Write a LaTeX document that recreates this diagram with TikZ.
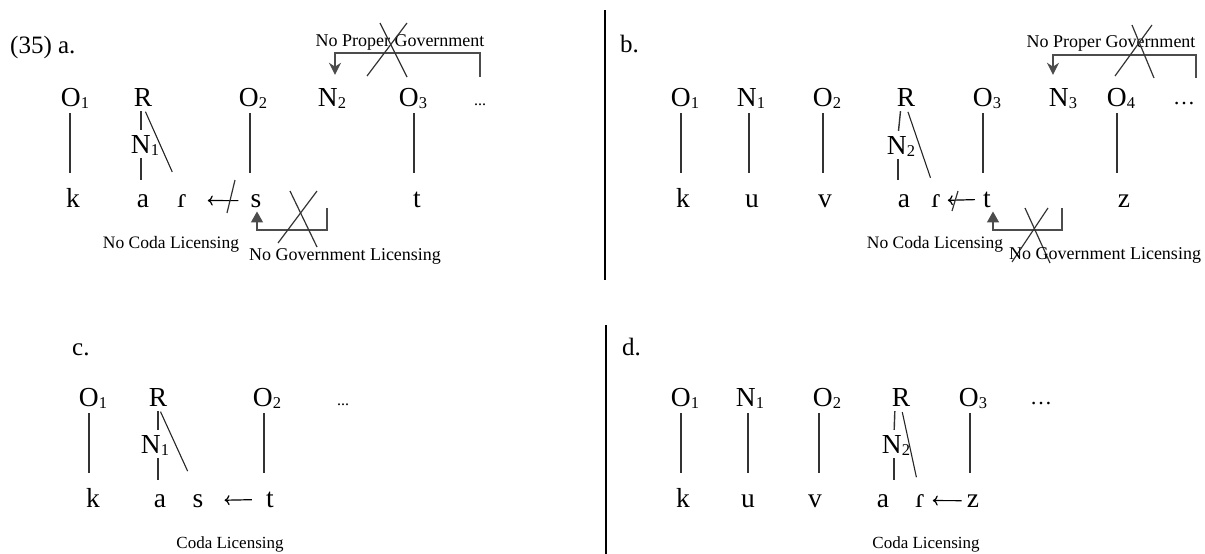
\documentclass[tikz,border=0pt]{standalone}
\usepackage{fontspec}
\setmainfont{Liberation Serif}
\usetikzlibrary{arrows.meta,calc}
\newcommand\sbs[1]{\raisebox{-2pt}{\fontsize{16.5}{17}\selectfont #1}}
\begin{document}
\begin{tikzpicture}[x=1pt,y=-1pt,
 seg/.style={font=\fontsize{27.5}{30}\selectfont, inner sep=0pt, anchor=base},
 lab/.style={font=\fontsize{18}{20}\selectfont, inner sep=0pt, anchor=base},
 head/.style={font=\fontsize{25}{28}\selectfont, inner sep=0pt, anchor=base west},
 assoc/.style={line width=1.4pt, draw=black!80},
 diag/.style={line width=1.1pt, draw=black!85},
 brk/.style={line width=1.4pt, draw=black!70},
 cross/.style={line width=1.2pt, draw=black!80},
 larrow/.style={line width=1.2pt, draw=black, -{To[length=5pt,width=10pt]}},
]
\useasboundingbox (0,0) rectangle (1205,554);

% ---------- panel a ----------
\node[head] (hA) at (10,53) {(35) a.};
\node[seg] (aO1) at (75,106) {O\sbs{1}};
\node[seg] (aR) at (143,106) {R};
\node[seg] (aO2) at (253,106) {O\sbs{2}};
\node[seg] (aN2) at (332,106) {N\sbs{2}};
\node[seg] (aO3) at (413,106) {O\sbs{3}};
\node[lab,font=\fontsize{16}{18}\selectfont] (aDots) at (480,105) {...};
\node[seg] (aN1) at (145,153) {N\sbs{1}};
\node[seg] (ak) at (73,207) {k};
\node[seg] (aa) at (143,207) {a};
\node[seg] (ar) at (182,207) {ɾ};
\node[seg] (as) at (256,207) {s};
\node[seg] (at) at (417,207) {t};
\coordinate (aTop) at (0,113);
\coordinate (aBot) at (0,173);
\draw[assoc] ($(ak|-aTop)+(-3,0)$) -- ($(ak|-aBot)+(-3,0)$);
\draw[assoc] ($(as|-aTop)+(-6,0)$) -- ($(as|-aBot)+(-6,0)$);
\draw[assoc] ($(at|-aTop)+(-3,0)$) -- ($(at|-aBot)+(-3,0)$);
\draw[assoc, shorten <=5pt, shorten >=5pt] ($(aR.south)+(-2,0)$) -- ($(aN1.north)+(-4,0)$);
\draw[assoc, shorten <=3pt, shorten >=14pt] ($(aN1.south)+(-4,0)$) -- ($(aN1.south|-aa.north)+(-4,0)$);
\draw[diag, shorten <=6pt, shorten >=24pt] (aR.south) -- (ar.north);
\draw[larrow, shorten <=12pt, shorten >=21pt] (as.west) -- (ar.east);
\draw[cross] (235,180) -- (227,213);
% No Proper Government
\node[lab] (aPGl) at (400,46) {No Proper Government};
\coordinate (aPG) at (480,77);
\draw[brk, -{Stealth[length=12pt,width=12pt]}, shorten >=13pt] (aPG) -- ++(0,-24) -| ($(aN2.north)+(3,0)$);
\draw[cross] (380,23) -- (407,77);
\draw[cross] (407,23) -- (367,76);
% No Government Licensing
\coordinate (aGL) at (327,208);
\draw[brk, -{Triangle[length=11pt,width=12pt]}, shorten >=4pt] (aGL) -- ++(0,22) -| ($(as.south)+(1,0)$);
\draw[cross] (290,191) -- (317,247);
\draw[cross] (317,191) -- (278,243);
\node[lab,font=\fontsize{17.5}{20}\selectfont] (aNCL) at (171,248) {No Coda Licensing};
\node[lab] (aNGL) at (345,260) {No Government Licensing};

% ---------- divider ----------
\coordinate (dv1) at (605,10);
\coordinate (dv2) at (605,280);
\coordinate (dv3) at (606,325);
\coordinate (dv4) at (606,554);
\draw[line width=1.6pt] (dv1) -- (dv2);
\draw[line width=1.6pt] (dv3) -- (dv4);

% ---------- panel b ----------
\node[head] (hB) at (620,52) {b.};
\node[seg] (bO1) at (685,106) {O\sbs{1}};
\node[seg] (bN1) at (751,106) {N\sbs{1}};
\node[seg] (bO2) at (827,106) {O\sbs{2}};
\node[seg] (bR) at (906,106) {R};
\node[seg] (bO3) at (987,106) {O\sbs{3}};
\node[seg] (bN3) at (1063,106) {N\sbs{3}};
\node[seg] (bO4) at (1121,106) {O\sbs{4}};
\node[seg,font=\fontsize{22}{24}\selectfont] (bDots) at (1184,104) {…};
\node[seg] (bN2) at (901,154) {N\sbs{2}};
\node[seg] (bk) at (683,207) {k};
\node[seg] (bu) at (752,207) {u};
\node[seg] (bv) at (825,207) {v};
\node[seg] (ba) at (904,207) {a};
\node[seg] (br) at (936,207) {ɾ};
\node[seg] (bt) at (987,207) {t};
\node[seg] (bz) at (1124,207) {z};
\coordinate (bTop) at (0,113);
\coordinate (bBot) at (0,173);
\draw[assoc] ($(bk|-bTop)+(-2,0)$) -- ($(bk|-bBot)+(-2,0)$);
\draw[assoc] ($(bu|-bTop)+(-3,0)$) -- ($(bu|-bBot)+(-3,0)$);
\draw[assoc] ($(bv|-bTop)+(-2,0)$) -- ($(bv|-bBot)+(-2,0)$);
\draw[assoc] ($(bt|-bTop)+(-4,0)$) -- ($(bt|-bBot)+(-4,0)$);
\draw[assoc] ($(bz|-bTop)+(-7,0)$) -- ($(bz|-bBot)+(-7,0)$);
\draw[assoc, shorten <=5pt, shorten >=5pt] ($(bR.south)+(-5,0)$) -- ($(bN2.north)+(-3,0)$);
\draw[assoc, shorten <=3pt, shorten >=14pt] ($(bN2.south)+(-3,0)$) -- ($(bN2.south|-ba.north)+(-3,0)$);
\draw[diag, shorten <=6pt, shorten >=17pt] (bR.south) -- (br.north);
\draw[larrow, shorten <=8pt, shorten >=7pt] (bt.west) -- (br.east);
\draw[cross] (958,191) -- (952,211);
% No Proper Government
\node[lab] (bPGl) at (1111,47) {No Proper Government};
\coordinate (bPG) at (1196,78);
\draw[brk, -{Stealth[length=12pt,width=12pt]}, shorten >=13pt] (bPG) -- ++(0,-23) -| ($(bN3.north)+(-10,0)$);
\draw[cross] (1132,25) -- (1154,78);
\draw[cross] (1152,25) -- (1115,76);
% No Government Licensing
\coordinate (bGL) at (1062,208);
\draw[brk, -{Triangle[length=11pt,width=12pt]}, shorten >=4pt] (bGL) -- ++(0,22) -| ($(bt.south)+(6,0)$);
\draw[cross] (1025,208) -- (1050,263);
\draw[cross] (1048,208) -- (1012,262);
\node[lab,font=\fontsize{17.5}{20}\selectfont] (bNCL) at (935,248) {No Coda Licensing};
\node[lab] (bNGL) at (1105,259) {No Government Licensing};

% ---------- panel c ----------
\node[head] (hC) at (72,355) {c.};
\node[seg] (cO1) at (93,406) {O\sbs{1}};
\node[seg] (cR) at (158,406) {R};
\node[seg] (cO2) at (267,406) {O\sbs{2}};
\node[lab,font=\fontsize{16}{18}\selectfont] (cDots) at (343,405) {...};
\node[seg] (cN1) at (155,453) {N\sbs{1}};
\node[seg] (ck) at (93,507) {k};
\node[seg] (ca) at (160,507) {a};
\node[seg] (cs) at (198,507) {s};
\node[seg] (ct) at (270,507) {t};
\coordinate (cTop) at (0,413);
\coordinate (cBot) at (0,473);
\draw[assoc] ($(ck|-cTop)+(-4,0)$) -- ($(ck|-cBot)+(-4,0)$);
\draw[assoc] ($(ct|-cTop)+(-6,0)$) -- ($(ct|-cBot)+(-6,0)$);
\draw[assoc, shorten <=5pt, shorten >=5pt] (cR.south) -- ($(cN1.north)+(3,0)$);
\draw[assoc, shorten <=3pt, shorten >=14pt] ($(cN1.south)+(3,0)$) -- ($(cN1.south|-ca.north)+(3,0)$);
\draw[diag, shorten <=6pt, shorten >=25pt] (cR.south) -- (cs.north);
\draw[larrow, shorten <=14pt, shorten >=21pt] (ct.west) -- (cs.east);
\node[lab,font=\fontsize{17}{20}\selectfont] (cCL) at (230,548) {Coda Licensing};

% ---------- panel d ----------
\node[head] (hD) at (622,355) {d.};
\node[seg] (dO1) at (685,406) {O\sbs{1}};
\node[seg] (dN1) at (750,406) {N\sbs{1}};
\node[seg] (dO2) at (827,406) {O\sbs{2}};
\node[seg] (dR) at (901,406) {R};
\node[seg] (dO3) at (973,406) {O\sbs{3}};
\node[seg,font=\fontsize{22}{24}\selectfont] (dDots) at (1041,404) {…};
\node[seg] (dN2) at (896,453) {N\sbs{2}};
\node[seg] (dk) at (683,507) {k};
\node[seg] (du) at (748,507) {u};
\node[seg] (dv) at (815,507) {v};
\node[seg] (da) at (883,507) {a};
\node[seg] (dr) at (920,507) {ɾ};
\node[seg] (dz) at (973,507) {z};
\coordinate (dTop) at (0,413);
\coordinate (dBot) at (0,473);
\draw[assoc] ($(dk|-dTop)+(-2,0)$) -- ($(dk|-dBot)+(-2,0)$);
\draw[assoc] ($(du|-dTop)+(0,0)$) -- ($(du|-dBot)+(0,0)$);
\draw[assoc] ($(dv|-dTop)+(4,0)$) -- ($(dv|-dBot)+(4,0)$);
\draw[assoc] ($(dz|-dTop)+(-3,0)$) -- ($(dz|-dBot)+(-3,0)$);
\draw[assoc, shorten <=5pt, shorten >=5pt] ($(dR.south)+(-6,0)$) -- ($(dN2.north)+(-2,0)$);
\draw[assoc, shorten <=3pt, shorten >=14pt] ($(dN2.south)+(-2,0)$) -- ($(dN2.south|-da.north)+(-2,0)$);
\draw[diag, shorten <=6pt, shorten >=17pt] (dR.south) -- (dr.north);
\draw[larrow, shorten <=5pt, shorten >=8pt] (dz.west) -- (dr.east);
\node[lab,font=\fontsize{17}{20}\selectfont] (dCL) at (926,548) {Coda Licensing};
\end{tikzpicture}
\end{document}
